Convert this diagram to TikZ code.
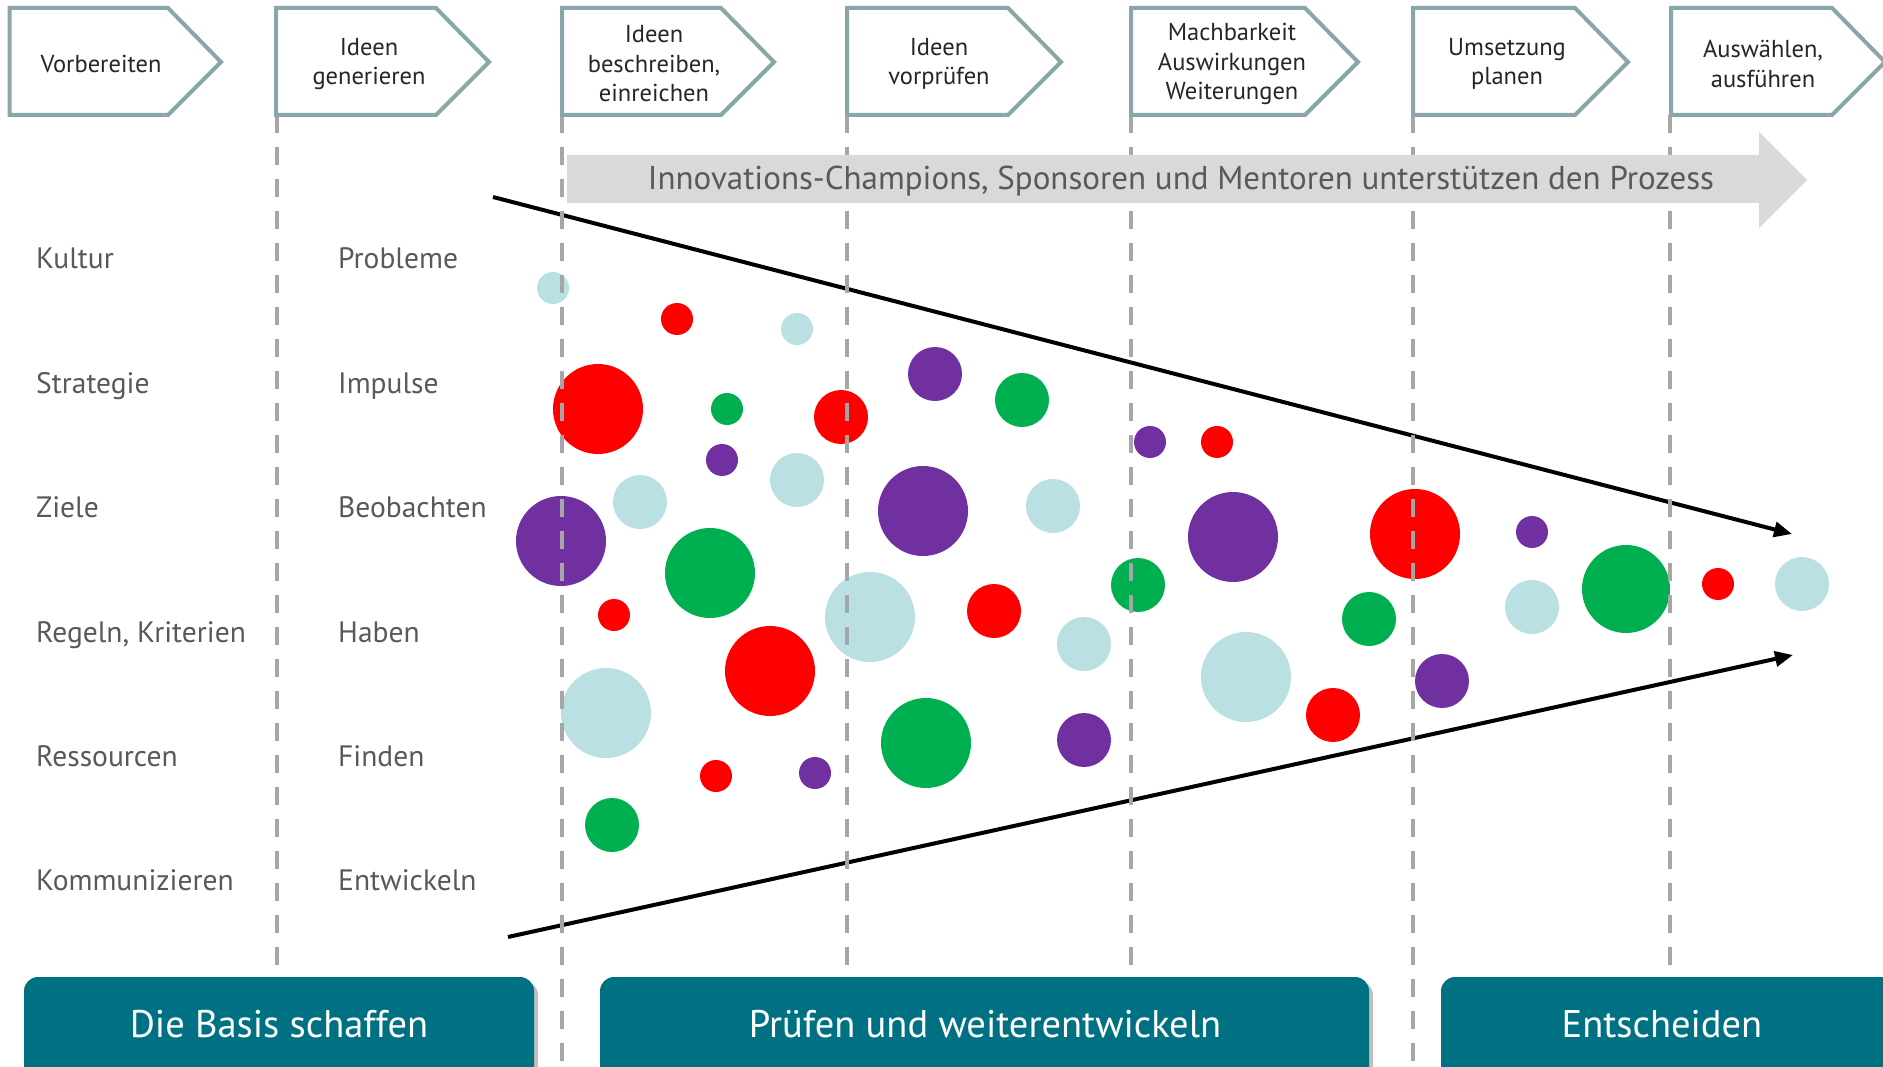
\documentclass[tikz,border=0pt]{standalone}
\usepackage{fontspec}
\setmainfont{PT Sans}
\usetikzlibrary{arrows.meta}
\definecolor{hdrline}{RGB}{139,166,168}
\definecolor{dashgray}{RGB}{166,166,166}
\definecolor{bandgray}{RGB}{217,217,217}
\definecolor{txtgray}{RGB}{89,89,89}
\definecolor{barteal}{RGB}{0,113,131}
\definecolor{cred}{RGB}{255,0,0}
\definecolor{cgreen}{RGB}{0,176,80}
\definecolor{cpurple}{RGB}{112,48,160}
\definecolor{clblue}{RGB}{187,224,227}
\begin{document}
\begin{tikzpicture}[x=1pt,y=-1pt,
  hdrbox/.style={draw=hdrline, line width=4pt, fill=white, line join=miter},
  hdrtext/.style={font=\fontsize{24.5}{29.5}\selectfont, align=center, text=black!85, inner sep=0},
  lbl/.style={font=\fontsize{29.5}{32}\selectfont, text=txtgray, anchor=base west, inner sep=0},
  bub/.style={circle, inner sep=0, draw=none},
  vline/.style={draw=dashgray, line width=4.5pt, dash pattern=on 18pt off 14pt},
  barbox/.style={fill=barteal, rounded corners=14pt},
  barshadow/.style={fill=black, opacity=0.25, rounded corners=14pt},
  bartext/.style={font=\fontsize{38.5}{40}\selectfont, text=white, anchor=base},
  flow/.style={line width=4pt, -{Triangle[length=18pt,width=15pt]}}
]
\useasboundingbox (0,0) rectangle (1883,1067);
\clip (0,0) rectangle (1883,1067);
\fill[white] (0,0) rectangle (1883,1067);

% bubbles
\foreach \x/\y/\r [count=\i] in {553/288/16, 797/329/16, 797/480/27, 640/502/27, 1053/506/27, 870/617/45, 606/713/45, 1084/644/27, 1246/677/45, 1532/607/27, 1802/584/27}
  \node[bub, fill=clblue, minimum size={(2*\r)*1pt}] (lb\i) at (\x,\y) {};
\foreach \x/\y/\r [count=\i] in {677/319/16, 598/409/45, 841/417/27, 614/615/16, 994/611/27, 770/671/45, 716/776/16, 1217/442/16, 1415/534/45, 1333/715/27, 1718/584/16}
  \node[bub, fill=cred, minimum size={(2*\r)*1pt}] (rd\i) at (\x,\y) {};
\foreach \x/\y/\r [count=\i] in {727/409/16, 1022/400/27, 710/573/45, 926/743/45, 612/825/27, 1138/585/27, 1369/619/27, 1626/589/44}
  \node[bub, fill=cgreen, minimum size={(2*\r)*1pt}] (gr\i) at (\x,\y) {};
\foreach \x/\y/\r [count=\i] in {935/374/27, 722/460/16, 561/541/45, 923/511/45, 815/773/16, 1084/740/27, 1150/442/16, 1233/537/45, 1532/532/16, 1442/681/27}
  \node[bub, fill=cpurple, minimum size={(2*\r)*1pt}] (pu\i) at (\x,\y) {};

% funnel lines
\coordinate (upA) at (493,197);
\coordinate (upB) at (1792,534);
\coordinate (loA) at (508,937);
\coordinate (loB) at (1793,655);
\draw[flow] (upA) -- (upB);
\draw[flow] (loA) -- (loB);

% dashed separators
\foreach \x [count=\i] in {277,562,847,1131,1413,1670} {
  \coordinate (vt\i) at (\x,115);
  \coordinate (vb\i) at (\x,1067);
  \draw[vline] (vt\i) -- (vb\i);
}

% band arrow
\fill[bandgray] (567,155) -- (1759,155) -- (1759,132) -- (1807,180) -- (1759,228) -- (1759,203) -- (567,203) -- cycle;
\node[font=\fontsize{33}{36}\selectfont, text=txtgray, anchor=base, inner sep=0] (band) at (1181,190) {Innovations-Champions, Sponsoren und Mentoren unterstützen den Prozess};

% header chevrons
\foreach \l/\s in {9.6/168, 276/436, 562/721, 847/1008, 1131/1305, 1413/1575, 1671/1832}
  \draw[hdrbox] (\l,8) -- (\s,8) -- (\s+53,62) -- (\s,115) -- (\l,115) -- cycle;
\node[hdrtext] (h1) at (101,64) {Vorbereiten};
\node[hdrtext] (h2) at (369,64) {Ideen\\generieren};
\node[hdrtext] (h3) at (654,64) {Ideen\\beschreiben,\\einreichen};
\node[hdrtext] (h4) at (939,64) {Ideen\\vorprüfen};
\node[hdrtext] (h5) at (1232,64) {Machbarkeit\\Auswirkungen\\Weiterungen};
\node[hdrtext] (h6) at (1507,64) {Umsetzung\\planen};
\node[hdrtext] (h7) at (1763,64) {Auswählen,\\ausführen};

% left labels
\node[lbl] (k1) at (36,269) {Kultur};
\node[lbl] (k2) at (36,393) {Strategie};
\node[lbl] (k3) at (36,517) {Ziele};
\node[lbl] (k4) at (36,642) {Regeln, Kriterien};
\node[lbl] (k5) at (36,766) {Ressourcen};
\node[lbl] (k6) at (36,890) {Kommunizieren};
\node[lbl] (g1) at (338,269) {Probleme};
\node[lbl] (g2) at (338,393) {Impulse};
\node[lbl] (g3) at (338,517) {Beobachten};
\node[lbl] (g4) at (338,642) {Haben};
\node[lbl] (g5) at (338,766) {Finden};
\node[lbl] (g6) at (338,890) {Entwickeln};

% bottom bars
\fill[barshadow] (28,981) rectangle (538,1100);
\fill[barshadow] (604,981) rectangle (1373,1100);
\fill[barshadow] (1445,981) rectangle (1910,1100);
\fill[barbox] (24,977) rectangle (534,1100);
\fill[barbox] (600,977) rectangle (1369,1100);
\fill[barbox] (1441,977) rectangle (1906,1100);
\node[bartext] (b1) at (279,1037) {Die Basis schaffen};
\node[bartext] (b2) at (985,1037) {Prüfen und weiterentwickeln};
\node[bartext] (b3) at (1662,1037) {Entscheiden};
\end{tikzpicture}
\end{document}
